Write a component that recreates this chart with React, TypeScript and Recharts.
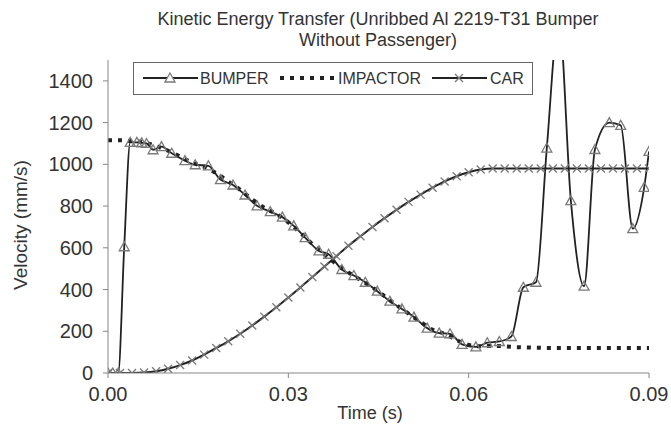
import { LineChart, Line, XAxis, YAxis } from "recharts"

// Bumper samples (s, mm/s)
const bumperTime = [
  0, 0.0008, 0.0017, 0.0027, 0.0037, 0.0048, 0.0056, 0.0064, 0.0075, 0.0089,
  0.0106, 0.0128, 0.0145, 0.0167, 0.0187, 0.0208, 0.0228, 0.0248, 0.027, 0.029,
  0.0309, 0.0328, 0.0351, 0.0367, 0.0389, 0.0409, 0.0428, 0.0448, 0.0469, 0.0489,
  0.0509, 0.0531, 0.0551, 0.0569, 0.0589, 0.0612, 0.0631, 0.0651, 0.0671, 0.0691,
  0.0712, 0.073, 0.075, 0.077, 0.0792, 0.081, 0.0834, 0.0853, 0.0873, 0.0892, 0.09,
]
const bumperVel = [
  0, 0, 0, 605, 1105, 1105, 1103, 1100, 1070, 1085,
  1053, 1018, 998, 993, 927, 901, 853, 801, 773, 747,
  705, 649, 585, 569, 496, 467, 435, 392, 344, 307,
  268, 215, 191, 188, 137, 125, 145, 151, 175, 411,
  435, 1078, 1700, 826, 416, 1071, 1200, 1187, 692, 890, 1062,
]

// Impactor and car share the same sample times
const sampleTime = [
  0, 0.002, 0.004, 0.006, 0.008, 0.01, 0.012, 0.014, 0.016, 0.018,
  0.02, 0.022, 0.024, 0.026, 0.028, 0.03, 0.032, 0.034, 0.036, 0.038,
  0.04, 0.042, 0.044, 0.046, 0.048, 0.05, 0.052, 0.054, 0.056, 0.058,
  0.06, 0.062, 0.064, 0.066, 0.068, 0.07, 0.072, 0.074, 0.076, 0.078,
  0.08, 0.082, 0.084, 0.086, 0.088, 0.09,
]
const impactorVel = [
  1115, 1115, 1112, 1105, 1088, 1065, 1037, 1008, 988, 958,
  918, 878, 832, 792, 762, 722, 672, 618, 568, 522,
  482, 446, 410, 368, 325, 285, 245, 207, 188, 158,
  135, 128, 130, 128, 124, 122, 121, 120, 120, 120,
  120, 120, 120, 120, 120, 120,
]
const carVel = [
  0, 0, 0, 2, 8, 20, 38, 60, 88, 120,
  152, 188, 228, 270, 315, 362, 410, 460, 510, 560,
  610, 655, 700, 742, 782, 820, 855, 888, 918, 943,
  962, 975, 980, 980, 980, 980, 980, 980, 980, 980,
  980, 980, 980, 980, 980, 980,
]

const xTicks = [0, 0.03, 0.06, 0.09]
const yTicks = [0, 200, 400, 600, 800, 1000, 1200, 1400]

const bumperData = bumperTime.map((t, i) => ({ t, v: bumperVel[i] }))
const impactorData = sampleTime.map((t, i) => ({ t, v: impactorVel[i] }))
const carData = sampleTime.map((t, i) => ({ t, v: carVel[i] }))

const FONT = "'Liberation Sans', Arial, sans-serif"
const INK = "#222"
const MARK = "#7a7a7a"

const triPath = (x: number, y: number) => `M${x},${y - 5} L${x + 5},${y + 4} L${x - 5},${y + 4} Z`

function TriDot(props: any) {
  const { cx, cy, index, value } = props
  if (cx == null || cy == null || value > 1500) return <g key={`b-${index}`} />
  return <path key={`b-${index}`} d={triPath(cx, cy)} fill="none" stroke={MARK} strokeWidth={1.3} />
}

function CrossDot(props: any) {
  const { cx, cy, index } = props
  if (cx == null || cy == null) return <g key={`c-${index}`} />
  return (
    <g key={`c-${index}`} stroke={MARK} strokeWidth={1.3}>
      <line x1={cx - 4} y1={cy - 4} x2={cx + 4} y2={cy + 4} />
      <line x1={cx - 4} y1={cy + 4} x2={cx + 4} y2={cy - 4} />
    </g>
  )
}

function LegendBox() {
  return (
    <svg width={400} height={33} style={{ display: "block" }}>
      <rect x={0.5} y={0.5} width={399} height={32} fill="#fff" stroke="#666" />
      <g fontFamily={FONT} fontSize={16} fill="#333">
        <line x1={10} y1={16} x2={65} y2={16} stroke={INK} strokeWidth={2} />
        <path d={triPath(37, 16)} fill="#fff" stroke={MARK} strokeWidth={1.3} />
        <text x={67} y={22}>BUMPER</text>
        <line x1={147} y1={16} x2={201} y2={16} stroke={INK} strokeWidth={4} strokeDasharray="4 6" />
        <text x={205} y={22}>IMPACTOR</text>
        <line x1={299} y1={16} x2={354} y2={16} stroke={INK} strokeWidth={2} />
        <g stroke={MARK} strokeWidth={1.3}>
          <line x1={322} y1={12} x2={330} y2={20} />
          <line x1={322} y1={20} x2={330} y2={12} />
        </g>
        <text x={357} y={22}>CAR</text>
      </g>
    </svg>
  )
}

export default function App() {
  return (
    <div style={{ position: "absolute", left: 0, top: 0, width: 671, height: 429, background: "#fff", fontFamily: FONT }}>
      <LineChart width={671} height={429} margin={{ top: 60, right: 22, bottom: 0, left: 0 }}>
        <XAxis
          type="number"
          dataKey="t"
          domain={[0, 0.09]}
          ticks={xTicks}
          allowDataOverflow
          tickFormatter={(v: number) => v.toFixed(2)}
          height={56}
          tickSize={5}
          tickMargin={9}
          stroke="#888"
          tick={{ fill: "#333", fontSize: 20, fontFamily: FONT }}
        />
        <YAxis
          type="number"
          domain={[0, 1500]}
          ticks={yTicks}
          allowDataOverflow
          width={108}
          tickSize={5}
          tickMargin={10}
          stroke="#888"
          tick={{ fill: "#333", fontSize: 20, fontFamily: FONT }}
        />
        <Line
          data={impactorData}
          dataKey="v"
          name="IMPACTOR"
          type="monotone"
          stroke={INK}
          strokeWidth={4}
          strokeDasharray="4 6"
          dot={false}
          isAnimationActive={false}
        />
        <Line
          data={carData}
          dataKey="v"
          name="CAR"
          type="monotone"
          stroke={INK}
          strokeWidth={2}
          dot={CrossDot}
          isAnimationActive={false}
        />
        <Line
          data={bumperData}
          dataKey="v"
          name="BUMPER"
          type="monotone"
          stroke={INK}
          strokeWidth={1.8}
          dot={TriDot}
          isAnimationActive={false}
        />
      </LineChart>
      <div
        style={{
          position: "absolute",
          left: 78,
          width: 600,
          top: 9,
          textAlign: "center",
          fontSize: 18,
          lineHeight: "21px",
          whiteSpace: "nowrap",
          color: "#333",
        }}
      >
        Kinetic Energy Transfer (Unribbed Al 2219-T31 Bumper
        <br />
        Without Passenger)
      </div>
      <div style={{ position: "absolute", left: 133, top: 62 }}>
        <LegendBox />
      </div>
      <div
        style={{
          position: "absolute",
          left: 21,
          top: 225,
          transform: "translate(-50%, -50%) rotate(-90deg)",
          whiteSpace: "nowrap",
          fontSize: 19,
          color: "#333",
        }}
      >
        Velocity (mm/s)
      </div>
      <div
        style={{
          position: "absolute",
          left: 370,
          top: 413,
          transform: "translate(-50%, -50%)",
          whiteSpace: "nowrap",
          fontSize: 18,
          color: "#333",
        }}
      >
        Time (s)
      </div>
    </div>
  )
}
